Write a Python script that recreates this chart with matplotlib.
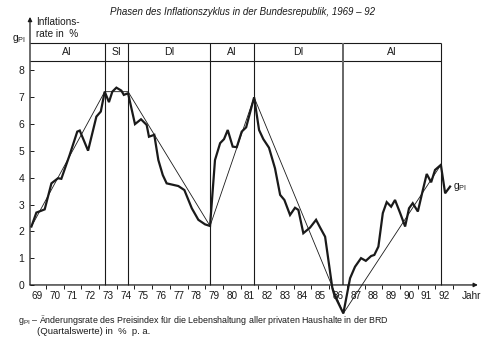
import matplotlib
matplotlib.use("Agg")
import matplotlib.pyplot as plt
import numpy as np

plt.rcParams["font.family"] = ["Liberation Sans", "DejaVu Sans"]
plt.rcParams["mathtext.fontset"] = "custom"
plt.rcParams["mathtext.rm"] = "Liberation Sans"

# quarterly inflation rate g_PI (year, % p.a.)
years = [1969.18, 1969.46, 1969.74, 1969.93, 1970.31, 1970.68, 1970.87, 1971.34,
         1971.77, 1971.91, 1972.38, 1972.85, 1973.10, 1973.32, 1973.56, 1973.75,
         1973.98, 1974.26, 1974.40, 1974.64, 1975.03, 1975.37, 1975.69, 1975.82,
         1976.12, 1976.35, 1976.60, 1976.82, 1977.48, 1977.82, 1978.24, 1978.61,
         1978.99, 1979.27, 1979.55, 1979.84, 1980.06, 1980.27, 1980.55, 1980.78,
         1981.06, 1981.31, 1981.76, 1982.04, 1982.28, 1982.60, 1982.94, 1983.23,
         1983.47, 1983.79, 1984.07, 1984.26, 1984.54, 1984.92, 1985.26, 1985.49,
         1985.77, 1986.18, 1986.29, 1986.80, 1987.18, 1987.46, 1987.80, 1988.07,
         1988.37, 1988.55, 1988.78, 1989.03, 1989.25, 1989.50, 1989.72, 1990.01,
         1990.29, 1990.51, 1990.72, 1991.01, 1991.27, 1991.51, 1991.76, 1991.98,
         1992.31, 1992.55, 1992.83]
g_pi = [2.18, 2.70, 2.77, 2.82, 3.79, 3.98, 3.96, 4.85,
        5.72, 5.76, 5.01, 6.28, 6.47, 7.21, 6.82, 7.21,
        7.36, 7.25, 7.09, 7.15, 6.00, 6.18, 5.97, 5.53,
        5.60, 4.66, 4.10, 3.79, 3.69, 3.54, 2.86, 2.43,
        2.26, 2.20, 4.66, 5.29, 5.44, 5.78, 5.16, 5.14,
        5.72, 5.88, 7.00, 5.78, 5.44, 5.12, 4.35, 3.36,
        3.17, 2.61, 2.88, 2.80, 1.93, 2.14, 2.43, 2.14,
        1.80, -0.12, -0.37, -1.06, 0.25, 0.68, 1.00, 0.90,
        1.08, 1.12, 1.43, 2.68, 3.09, 2.92, 3.17, 2.68,
        2.18, 2.86, 3.05, 2.74, 3.48, 4.14, 3.83, 4.29,
        4.48, 3.42, 3.67]

# turning points joined by the thin trend line
turn_years = [1969.18, 1973.32, 1974.64, 1979.27, 1981.76, 1986.80, 1992.31]
turn_vals = [2.18, 7.21, 7.21, 2.20, 7.00, -1.06, 4.48]

# phase boundaries and names
phase_bounds = [1973.32, 1974.64, 1979.27, 1981.76, 1986.80, 1992.31]
phase_names = ["AI", "SI", "DI", "AI", "DI", "AI"]

year_labels = [f"{y % 100:02d}" for y in range(1969, 1993)]

x0, x1 = 1969.10, 1994.52
box_top, box_bot = 9.03, 8.36
ink = "#1a1a1a"

fig = plt.figure(figsize=(4.91, 3.49), dpi=100)
ax = fig.add_axes([30 / 491, 19 / 349, 450 / 491, 315 / 349])
ax.set_xlim(x0, x1)
ax.set_ylim(-1.68, 10.07)

for s in ax.spines.values():
    s.set_visible(False)
ax.spines["bottom"].set_position(("data", 0))

# axes with arrows
ax.annotate("", xy=(x0, 10.0), xytext=(x0, 0), annotation_clip=False,
            arrowprops=dict(arrowstyle="-|>", lw=0.9, color=ink, mutation_scale=6,
                            shrinkA=0, shrinkB=0))
ax.annotate("", xy=(1994.4, 0), xytext=(x0, 0), annotation_clip=False,
            arrowprops=dict(arrowstyle="-|>", lw=0.9, color=ink, mutation_scale=6,
                            shrinkA=0, shrinkB=0))

ax.set_yticks(range(0, 9))
ax.set_yticklabels([str(v) for v in range(0, 9)], fontsize=7.5)
ax.tick_params(axis="y", direction="in", length=3, width=0.7, pad=4, colors=ink)
ax.set_xticks(range(1970, 1994))
ax.set_xticklabels([])
ax.tick_params(axis="x", direction="out", length=3, width=0.7, colors=ink)
for y, lab in zip(range(1969, 1993), year_labels):
    ax.text(y + 0.5, -0.42, lab, ha="center", va="center", fontsize=7.2, color=ink)
ax.text(1994.05, -0.42, "Jahr", ha="center", va="center", fontsize=7.2, color=ink)

# phase header box and boundary lines
ax.hlines([box_top, box_bot], x0, phase_bounds[-1], color=ink, lw=0.8)
for b in phase_bounds:
    if b == 1986.80:
        ax.vlines(b, 0, box_top, color="#666666", lw=1.4)
    else:
        ax.vlines(b, 0, box_top, color=ink, lw=0.8)
lefts = [x0] + phase_bounds[:-1]
for l, r, name in zip(lefts, phase_bounds, phase_names):
    ax.text((l + r) / 2, (box_top + box_bot) / 2, name, ha="center", va="center",
            fontsize=7.5, color=ink)

# data
ax.plot(turn_years, turn_vals, color=ink, lw=0.6, clip_on=False)
ax.plot(years, g_pi, color=ink, lw=1.6, clip_on=False, solid_joinstyle="miter")
ax.text(1993.0, 3.66, r"g$_{\mathrm{PI}}$", fontsize=7.5, va="center", color=ink)

# texts around the chart
fig.text(243 / 491, 1 - 12 / 349, "Phasen des Inflationszyklus in der Bundesrepublik, 1969 – 92",
         ha="center", va="center", fontsize=7.0, style="italic", color=ink)
fig.text(36 / 491, 1 - 28 / 349, "Inflations-\nrate in  %", ha="left", va="center",
         fontsize=7.2, linespacing=1.15, color=ink)
fig.text(12 / 491, 1 - 41 / 349, r"g$_{\mathrm{PI}}$", ha="left", va="baseline",
         fontsize=7.5, color=ink)
fig.text(18 / 491, 1 - 320 / 349,
         r"g$_{\mathrm{PI}}$ – Änderungsrate des Preisindex für die Lebenshaltung aller privaten Haushalte in der BRD",
         ha="left", va="center", fontsize=6.4, color=ink)
fig.text(37 / 491, 1 - 332 / 349, "(Quartalswerte) in  %  p. a.", ha="left", va="center",
         fontsize=6.8, color=ink)

fig.savefig("out.png", dpi=100)
